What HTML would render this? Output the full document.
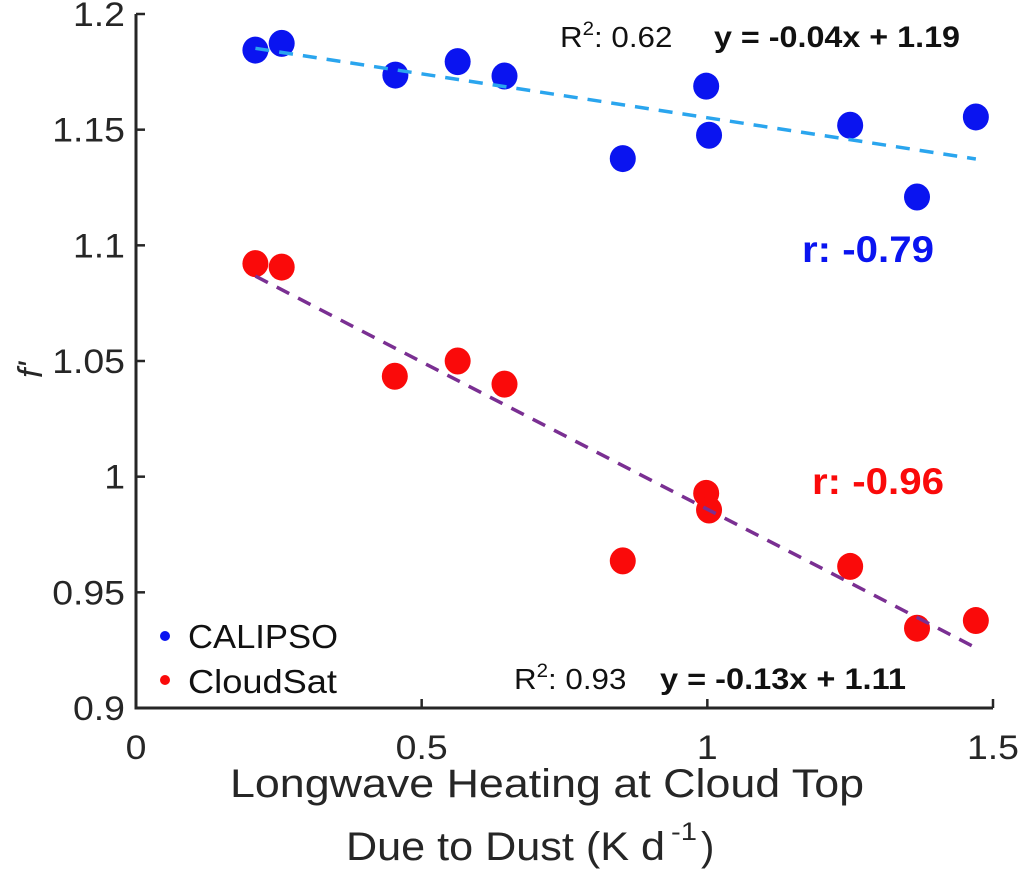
<!DOCTYPE html>
<html><head><meta charset="utf-8"><style>
html,body{margin:0;padding:0;background:#fff;}
svg{display:block;font-family:"Liberation Sans",Arial,sans-serif;}
</style></head><body>
<svg id="chart" width="1019" height="872" viewBox="0 0 1019 872"></svg>
<script>
const xTicks=[0,0.5,1,1.5];
const xTickLabels=["0","0.5","1","1.5"];
const yTicks=[0.9,0.95,1,1.05,1.1,1.15,1.2];
const yTickLabels=["0.9","0.95","1","1.05","1.1","1.15","1.2"];
const xValues=[0.209,0.255,0.454,0.563,0.645,0.852,0.998,1.003,1.25,1.367,1.47];
const calipso=[1.1844,1.1873,1.1736,1.1794,1.1732,1.1375,1.1688,1.1476,1.1519,1.1209,1.1555];
const cloudsatX=[0.209,0.255,0.453,0.563,0.645,0.852,0.998,1.003,1.25,1.367,1.47];
const cloudsat=[1.0921,1.0906,1.0434,1.05,1.04,0.9636,0.9928,0.9856,0.9612,0.9345,0.9378];

const NS="http://www.w3.org/2000/svg";
const svg=document.getElementById('chart');
const X0=136,X1=993,Y0=708,Y1=14;
function xs(v){return X0+(v-0)/(1.5-0)*(X1-X0);}
function ys(v){return Y0-(v-0.9)/(1.2-0.9)*(Y0-Y1);}
function mk(tag,attrs,text){const e=document.createElementNS(NS,tag);for(const k in attrs)e.setAttribute(k,attrs[k]);if(text!==undefined)e.textContent=text;svg.appendChild(e);return e;}
function sx(x,f){return `translate(${x},0) scale(${f},1) translate(${-x},0)`;}

let e=mk('path',{d:`M${X0},${Y1} V${Y0} H${X1}`,fill:'none',stroke:'#262626','stroke-width':3});


xTicks.forEach((t,i)=>{
  let l=mk('line',{x1:xs(t),x2:xs(t),y1:Y0,y2:Y0-9,stroke:'#262626','stroke-width':2.5});
  
  
  let tx=mk('text',{x:xs(t),y:759,'font-size':34,'text-anchor':'middle',fill:'#262626',transform:sx(xs(t),1.1)},xTickLabels[i]);
  
  
});
yTicks.forEach((t,i)=>{
  let l=mk('line',{x1:X0,x2:X0+9,y1:ys(t),y2:ys(t),stroke:'#262626','stroke-width':2.5});
  
  
  let tx=mk('text',{x:125,y:ys(t)+12,'font-size':34,'text-anchor':'end',fill:'#262626',transform:sx(125,1.1)},yTickLabels[i]);
  
  
});

function fit(xa,ya){const n=xa.length;let mx=0,my=0;for(let i=0;i<n;i++){mx+=xa[i];my+=ya[i];}mx/=n;my/=n;let sxy=0,sxx=0;for(let i=0;i<n;i++){sxy+=(xa[i]-mx)*(ya[i]-my);sxx+=(xa[i]-mx)**2;}const b=sxy/sxx;return [b,my-b*mx];}
function drawFit(xa,ya,col,name){const [b,a]=fit(xa,ya);const xa0=Math.min(...xa),xa1=Math.max(...xa);
  let l=mk('line',{x1:xs(xa0),y1:ys(a+b*xa0),x2:xs(xa1),y2:ys(a+b*xa1),stroke:col,'stroke-width':3.5,'stroke-dasharray':'14 10'});
  
  }
function drawPts(xa,ya,col,name){xa.forEach((x,i)=>{
  let c=mk('ellipse',{cx:xs(x),cy:ys(ya[i]),rx:13,ry:13.5,fill:col});
  
  });}
drawPts(xValues,calipso,'#0a14f0','calipso-point');
drawPts(cloudsatX,cloudsat,'#fa0a0a','cloudsat-point');
drawFit(xValues,calipso,'#2aa5ee','calipso-fit-line');
drawFit(cloudsatX,cloudsat,'#7a2f92','cloudsat-fit-line');
</script>
<svg style="position:absolute;left:0;top:0" width="1019" height="872" font-family="Liberation Sans, Arial, sans-serif">
  <text x="560" y="47" font-size="29" fill="#111" transform="translate(560,0) scale(1.08,1) translate(-560,0)">R<tspan dy="-12" font-size="19">2</tspan><tspan dy="12">: 0.62</tspan></text>
  <text x="714" y="47" font-size="30" font-weight="bold" fill="#111" textLength="246" lengthAdjust="spacingAndGlyphs">y = -0.04x + 1.19</text>
  <text x="802" y="262" font-size="37" font-weight="bold" fill="#0a14f0" textLength="132" lengthAdjust="spacingAndGlyphs">r: -0.79</text>
  <text x="812" y="494" font-size="37" font-weight="bold" fill="#fa0a0a" textLength="132" lengthAdjust="spacingAndGlyphs">r: -0.96</text>
  <text x="514" y="689" font-size="29" fill="#111" transform="translate(514,0) scale(1.08,1) translate(-514,0)">R<tspan dy="-12" font-size="19">2</tspan><tspan dy="12">: 0.93</tspan></text>
  <text x="660" y="689" font-size="30" font-weight="bold" fill="#111" textLength="246" lengthAdjust="spacingAndGlyphs">y = -0.13x + 1.11</text>
  <circle cx="165" cy="636" r="5" fill="#0a14f0"/>
  <text x="188" y="648" font-size="33" fill="#111" textLength="150" lengthAdjust="spacingAndGlyphs">CALIPSO</text>
  <circle cx="165" cy="680" r="5" fill="#fa0a0a"/>
  <text x="188" y="693" font-size="33" fill="#111" textLength="149" lengthAdjust="spacingAndGlyphs">CloudSat</text>
  <text x="230" y="797" font-size="40" fill="#262626" textLength="634" lengthAdjust="spacingAndGlyphs">Longwave Heating at Cloud Top</text>
  <g>
    <text x="346" y="860" font-size="40" fill="#262626" textLength="319" lengthAdjust="spacingAndGlyphs">Due to Dust (K d</text>
    <text x="671" y="840" font-size="25" fill="#262626" textLength="26" lengthAdjust="spacingAndGlyphs">-1</text>
    <text x="701" y="860" font-size="40" fill="#262626">)</text>
  </g>
  <text x="0" y="0" font-size="34" font-style="italic" fill="#262626" transform="translate(42,378) rotate(-90)">f'</text>
</svg>
</body></html>
